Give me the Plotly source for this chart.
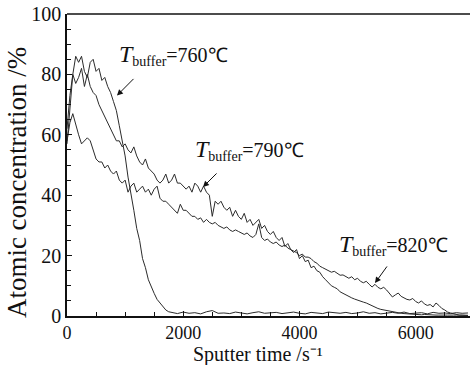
import numpy as np
import plotly.graph_objects as go

# ---------------- data ----------------
# T_buffer = 760 C : steep part, 0..1750 s every 50 s
y760_a = [62, 73, 80, 86, 84, 86, 81, 79, 84, 85, 81, 82, 78, 79, 76, 74, 71, 68,
          63, 58, 53, 46, 41, 35, 29, 25, 19, 16, 12, 9.5, 7.5, 5.5, 4.2, 3.0, 2.0, 1.4]
# T_buffer = 760 C : flat tail, from 1800 s every 100 s
y760_b = [1.2, 0.8, 1.3, 0.9, 1.1, 0.7, 1.4, 1.8, 0.9, 1.0, 0.8, 1.3, 1.0, 0.7, 1.1,
          1.4, 0.9, 1.0, 1.2, 0.8, 1.1, 1.3, 0.9, 0.7, 1.2, 1.0, 0.8, 1.3, 1.1, 0.9,
          1.2, 0.8, 1.0, 1.4, 0.9, 1.1, 0.7, 1.0, 1.2, 0.9, 1.3, 0.8, 1.0, 1.1, 0.7,
          1.2, 0.9, 1.0, 0.8, 1.1, 0.9, 1.0]
# T_buffer = 790 C, every 50 s from 0
y790 = [57, 68, 80, 77, 79, 82, 76, 80, 76, 74, 73, 70, 68, 66, 64, 62, 60, 58, 58, 56,
        57, 55, 54, 56, 53, 51, 50, 52, 49, 48, 47, 45, 44, 45, 47, 44, 45, 47, 44, 44,
        43, 42, 43, 41, 44, 43, 41, 43, 41, 40, 33, 38, 37, 38, 36, 35, 36, 33, 35, 33,
        32, 34, 31, 32, 30, 31, 32, 29, 30, 28, 27, 28, 26, 25, 26, 23, 24, 22, 21, 22,
        19, 20, 18, 18.5, 16, 16.5, 15, 14.5, 13, 12, 11, 10, 9.5, 9, 8, 7.5, 7, 6.3, 6, 5.6,
        5.2, 5, 4.6, 4.3, 3.8, 3.3, 2.8, 2.5, 2.2, 2, 1.7, 1.5, 1.3, 1.1, 1.0, 0.9, 0.8, 0.7,
        0.7, 0.6, 0.5, 0.5, 0.4, 0.5, 0.4, 0.3, 0.4, 0.3, 0.3, 0.4, 0.3, 0.3, 0.2, 0.3, 0.3,
        0.2, 0.3, 0.2, 0.2]
# T_buffer = 820 C, every 50 s from 0
y820 = [58, 64, 67, 63, 60, 57, 58, 59, 58, 55, 52, 51, 51, 49, 50, 48, 47, 48, 45, 44,
        45, 41, 43, 44, 41, 42, 43, 41, 42, 40, 42, 43, 39, 38, 38, 37, 36, 35, 34, 37,
        35, 35, 34, 33, 33, 32, 32.5, 31, 32, 31, 30.5, 31, 30, 29.5, 29, 29.5, 28.5, 28, 28.5, 28,
        27.5, 27, 27.5, 26.5, 26, 27, 30.5, 26, 25, 25.5, 24.5, 24, 24.5, 23.5, 23, 23.5, 22.5, 22, 21.5, 21,
        20, 20.5, 19.5, 19.5, 19, 18, 17.5, 16.5, 16, 15.5, 15, 14.5, 14.8, 14, 13.5, 13.6, 13, 12.5, 13, 12,
        12.5, 11.5, 11, 11.5, 10.5, 9.6, 10.5, 9.5, 9, 9.5, 8.6, 7.5, 6.3, 7, 7.6, 6.5, 6, 5.5, 5.3, 5.8,
        4.8, 4.3, 5, 4, 3.5, 3.8, 3, 4.3, 3.5, 2.5, 2, 1.3, 1, 0.7, 0.4, 0.3, 0.3, 0.2, 0.2]

labels = ["760", "790", "820"]
x_ticks = [0, 2000, 4000, 6000]
y_ticks = [0, 20, 40, 60, 80, 100]

# time axes
x760 = list(50 * np.arange(len(y760_a))) + list(1800 + 100 * np.arange(len(y760_b)))
y760 = y760_a + y760_b
x790 = 50 * np.arange(len(y790))
x820 = 50 * np.arange(len(y820))

line = dict(color="#2b2b2b", width=1)
fig = go.Figure()
for xs, ys, nm in [(x760, y760, labels[0]), (x790, y790, labels[1]), (x820, y820, labels[2])]:
    fig.add_trace(go.Scatter(x=xs, y=ys, mode="lines", line=line, name=nm, showlegend=False))

FONT = "Liberation Serif"
fig.update_layout(
    width=471, height=365,
    margin=dict(l=67, r=1, t=14, b=49),
    paper_bgcolor="white", plot_bgcolor="white",
    font=dict(family=FONT, color="#111", size=20),
)
fig.update_xaxes(
    range=[0, 6935], tickvals=x_ticks, showgrid=False, zeroline=False,
    showline=True, linecolor="#111", linewidth=1.5,
    ticks="inside", ticklen=5, tickcolor="#111", tickwidth=1,
    minor=dict(ticks="inside", dtick=500, ticklen=4, tickcolor="#111", tickwidth=1),
    tickfont=dict(family=FONT, size=18),
)
fig.update_yaxes(
    range=[0, 100], tickvals=y_ticks, showgrid=False, zeroline=False,
    showline=True, linecolor="#111", linewidth=1.5,
    ticks="inside", ticklen=5, tickcolor="#111", tickwidth=1,
    minor=dict(ticks="inside", dtick=5, ticklen=4, tickcolor="#111", tickwidth=1),
    tickfont=dict(family=FONT, size=20),
)
# top frame line
fig.add_shape(type="line", xref="paper", yref="paper", x0=0, x1=1, y0=1, y1=1,
              line=dict(color="#111", width=1.5))

# axis titles
fig.add_annotation(text="Sputter time /s⁻¹", xref="paper", yref="paper",
                   x=0.474, y=0, yshift=-38, showarrow=False, xanchor="center", yanchor="middle",
                   font=dict(family=FONT, size=20))
fig.add_annotation(text="Atomic concentration /%", xref="paper", yref="paper",
                   x=0, xshift=-50, y=0.44, textangle=-90, showarrow=False,
                   xanchor="center", yanchor="middle", font=dict(family=FONT, size=27))

# curve labels and arrows
lab_pos = [(860, 86.4), (2170, 55), (4650, 23.5)]
arrows = [((860, 73), (1170, 79)), ((2340, 42.7), (2600, 47.7)), ((5300, 10.9), (5525, 16.9))]
for nm, (lx, ly), (head, tail) in zip(labels, lab_pos, arrows):
    fig.add_annotation(
        text='<span style="font-size:24px"><i>T</i></span><sub>buffer</sub>=' + nm + "℃",
        x=lx, y=ly, xanchor="left", yanchor="middle", showarrow=False,
        font=dict(family=FONT, size=20))
    fig.add_annotation(x=head[0], y=head[1], ax=tail[0], ay=tail[1], axref="x", ayref="y",
                       text="", showarrow=True, arrowhead=2, arrowsize=1.2, arrowwidth=1,
                       arrowcolor="#111")

fig.write_html("out.html")
